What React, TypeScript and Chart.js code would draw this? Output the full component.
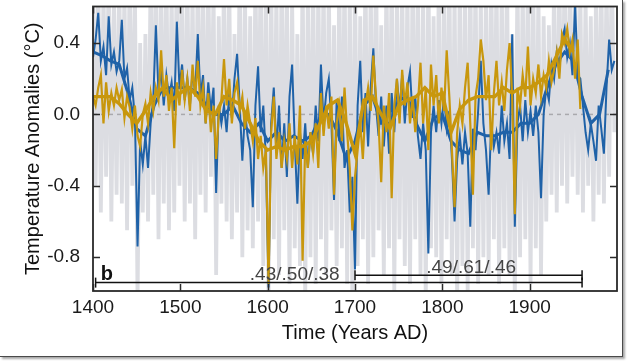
import React, { useEffect, useRef } from "react";
import { Chart, registerables } from "chart.js";

Chart.register(...registerables);

// ---------- data ----------
const START_YEAR = 1400;
const STEP = 3; // annual series sampled every 3 years
const SMOOTH_STEP = 10;

const xTickValues = [1400, 1500, 1600, 1700, 1800, 1900];
const yTickValues = [-0.8, -0.4, 0.0, 0.4];
const X_MIN = 1400;
const X_MAX = 2000;
const Y_MIN = -0.99;
const Y_MAX = 0.605;

// light gray: full-range (highly variable) reconstruction
const grayValues = [
  0.75, -0.4, 0.8, -0.55, 0.7, -0.35, 0.85, -0.6, 0.65, -0.45,
  0.8, -0.5, 0.72, -0.65, 0.85, -0.4, 0.7, -1.05, 0.4, -0.55,
  0.45, -0.6, 0.8, -0.45, 0.9, -0.7, 0.75, -0.5, 0.85, -0.65,
  0.7, -0.55, 0.9, -0.4, 0.75, -0.6, 0.8, -0.5, 0.7, -0.7,
  0.85, -0.45, 0.75, -0.55, 0.8, -0.35, 0.7, -0.9, 0.55, -0.5,
  0.8, -0.6, 0.75, -0.7, 0.45, -0.55, 0.85, -0.8, 0.7, -0.65,
  0.55, -0.75, 0.8, -0.6, 0.9, -0.85, 0.75, -1.05, 0.8, -0.7,
  0.7, -0.9, 0.85, -0.65, 0.75, -0.95, 0.65, -0.75, 0.45, -0.85,
  0.8, -1.05, 0.7, -0.8, 0.85, -0.95, 0.75, -0.7, 0.8, -0.9,
  0.75, -0.65, 0.5, -0.85, 0.8, -0.75, 0.85, -0.95, 0.7, -1.05,
  0.8, -0.85, 0.55, -0.7, 0.85, -0.95, 0.75, -0.8, 0.9, -0.65,
  0.5, -0.9, 0.8, -0.75, 0.85, -1.0, 0.7, -0.7, 0.8, -0.85,
  0.75, -0.95, 0.85, -0.7, 0.8, -0.9, 0.7, -1.05, 0.85, -0.75,
  0.55, -0.8, 0.8, -0.95, 0.75, -0.7, 0.85, -0.9, 0.7, -1.05,
  0.8, -0.85, 0.75, -1.0, 0.85, -0.75, 0.8, -0.95, 0.7, -0.8,
  0.75, -0.9, 0.85, -0.7, 0.8, -0.95, 0.75, -0.75, 0.85, -0.9,
  0.45, -1.05, 0.8, -0.8, 0.75, -0.7, 0.85, -0.95, 0.8, -0.75,
  0.7, -0.9, 0.55, -0.6, 0.5, -0.45, 0.75, -0.55, 0.8, -0.4,
  0.85, -0.5, 0.75, -0.35, 0.8, -0.45, 0.7, -0.55, 0.65, -0.4,
  0.55, -0.6, 0.7, -0.45, 0.8, -0.5, 0.75, -0.35, 0.85, -0.1,
];

// blue reconstruction, 1400-1997
const blueValues = [
  0.32, 0.42, 0.57, 0.3, 0.38, 0.22, 0.55, 0.28, 0.35, 0.24,
  0.3, 0.53, 0.2, 0.26, 0.08, 0.15, -0.02, -0.74, -0.15, -0.28,
  -0.12, -0.3, -0.05, 0.08, 0.5, 0.12, 0.25, 0.05, 0.22, 0.1,
  0.18, 0.02, 0.52, 0.15, 0.28, 0.08, 0.2, 0.05, 0.24, 0.12,
  0.45, 0.1, 0.22, -0.05, 0.18, 0.02, 0.15, -0.44, 0.05, -0.05,
  0.05, -0.1, 0.12, -0.02, 0.2, 0.34, 0.05, -0.26, 0.02, -0.12,
  -0.2, -0.52, 0.05, 0.27, -0.1, 0.05, -0.25, -0.97, -0.05, 0.15,
  -0.2, 0.05, -0.3, -0.05, -0.35, 0.1, 0.28, -0.15, -0.5, -0.1,
  -0.25, -0.05, -0.3, -0.1, -0.22, 0.05, -0.15, 0.28, -0.05, 0.12,
  0.2, -0.05, -0.48, 0.08, -0.15, 0.1, -0.3, -0.2, -0.55, -0.35,
  -0.87, 0.05, 0.3, -0.1, 0.12, -0.18, 0.15, 0.37, 0.05, -0.12,
  0.1, -0.18, 0.05, -0.22, 0.12, -0.1, 0.2, 0.02, 0.22, -0.05,
  0.15, 0.24, -0.02, 0.1, -0.12, -0.25, -0.05, -0.2, -0.78, -0.1,
  0.05, -0.1, 0.08, -0.05, 0.1, -0.08, 0.02, -0.25, -0.6, -0.25,
  -0.12, -0.28, -0.1, -0.22, -0.63, -0.08, -0.2, 0.02, 0.3, -0.05,
  -0.2, -0.45, -0.05, -0.18, -0.1, -0.22, 0.05, -0.15, -0.05, -0.25,
  0.45, -0.63, -0.05, 0.05, -0.15, 0.08, -0.1, 0.02, -0.12, 0.05,
  -0.1, -0.47, 0.0, 0.15, 0.08, 0.28, 0.2, 0.35, 0.25, 0.42,
  0.48, 0.32, 0.4, 0.22, 0.62, 0.22, 0.2, 0.05, -0.1, -0.2,
  -0.05, -0.15, -0.26, 0.05, -0.08, -0.22, 0.15, 0.42, 0.25, 0.3,
];

// gold reconstruction, 1400-1958
const goldValues = [
  0.1, 0.05, 0.15, 0.22, -0.05, 0.18, 0.02, 0.12, 0.05, 0.15,
  0.08, 0.14, -0.02, 0.1, 0.04, -0.08, 0.05, -0.12, -0.18, 0.0,
  0.06, -0.05, 0.12, 0.02, 0.15, 0.08, 0.36, 0.1, 0.22, 0.02,
  0.15, -0.19, 0.18, 0.05, 0.25, 0.08, 0.2, 0.02, 0.28, 0.1,
  0.3, 0.05, 0.15, -0.05, 0.12, -0.1, 0.05, -0.25, 0.0, 0.08,
  0.31, 0.05, 0.2, -0.05, 0.12, 0.18, 0.02, 0.1, -0.08, 0.05,
  -0.05, -0.15, -0.02, -0.25, -0.12, -0.3, -0.2, -0.95, -0.1, 0.1,
  -0.25, -0.1, -0.3, -0.15, -0.25, -0.05, -0.3, -0.12, -0.28, 0.05,
  -0.82, -0.15, -0.3, -0.1, -0.22, -0.05, -0.3, 0.12, -0.12, 0.05,
  -0.08, 0.1, -0.45, -0.05, 0.05, -0.15, 0.15, -0.1, -0.3, -0.65,
  -0.35, -0.2, -0.05, -0.25, 0.05, 0.15, 0.02, 0.33, 0.1, -0.05,
  -0.38, 0.05, -0.1, 0.12, -0.47, 0.05, 0.2, -0.05, 0.25, 0.05,
  0.18, -0.05, 0.1, -0.1, 0.05, 0.29, -0.05, 0.15, -0.2, 0.28,
  0.05, 0.22, -0.05, 0.15, 0.02, 0.36, 0.1, -0.2, -0.52, -0.1,
  0.05, -0.05, 0.15, 0.29, -0.05, -0.45, 0.1, 0.2, 0.42, 0.3,
  0.08, 0.22, -0.2, 0.12, 0.3, 0.05, 0.18, 0.02, 0.25, 0.4,
  0.1, -0.56, 0.15, 0.05, 0.22, 0.1, 0.38, 0.05, 0.2, 0.12,
  0.28, 0.1, 0.22, 0.15, 0.3, 0.18, 0.25, 0.35, 0.2, 0.45,
  0.4, 0.48, 0.35, 0.42, 0.2, 0.42, 0.03,
];

// decadal smooth curves
const blueSmooth = [
  0.35, 0.33, 0.3, 0.28, 0.12, -0.08, -0.12, 0.05, 0.15, 0.15,
  0.15, 0.15, 0.12, 0.05, 0.0, 0.0, 0.05, -0.05, -0.1, -0.05,
  -0.15, -0.1, -0.15, -0.12, -0.15, -0.12, -0.02, 0.0, -0.1, -0.25,
  -0.15, 0.05, 0.1, -0.05, -0.05, 0.08, 0.1, -0.05, -0.15, -0.02,
  0.0, -0.15, -0.2, -0.22, -0.1, -0.12, -0.12, -0.1, -0.1, -0.05,
  -0.05, 0.0, 0.15, 0.28, 0.35, 0.3, 0.1, -0.05, 0.0, 0.25,
];
const goldSmooth = [
  0.1, 0.1, 0.1, 0.06, 0.0, -0.05, 0.02, 0.1, 0.15, 0.08,
  0.12, 0.15, 0.1, 0.02, 0.0, 0.1, 0.08, 0.05, -0.05, -0.15,
  -0.2, -0.18, -0.2, -0.18, -0.18, -0.15, -0.05, 0.05, 0.08, -0.05,
  -0.22, 0.08, 0.1, 0.0, -0.08, 0.05, 0.08, 0.1, 0.15, 0.1,
  0.12, -0.1, 0.03, 0.08, 0.1, 0.1, 0.1, 0.15, 0.12, 0.15,
  0.15, 0.18, 0.22, 0.32, 0.42, 0.35,
];

// verification periods and scores
const periodStarts = [1403, 1700];
const periodEnds = [1960, 1960];
const periodLevels = [-0.943, -0.901];
const periodLabels = [".43/.50/.38", ".49/.61/.46"];
const periodLabelX = [1631, 1833];
const periodLabelY = [-0.926, -0.888];
const panelLetter = "b";
const panelLetterX = 1409;
const panelLetterY = -0.926;

const toPoints = (vals: number[], step: number) =>
  vals.map((v, i) => ({ x: START_YEAR + i * step, y: v }));

const FONT = "'Liberation Sans', Arial, Helvetica, sans-serif";

const framePlugin = {
  id: "framePlugin",
  afterDatasetsDraw(chart: any) {
    const { ctx, chartArea, scales } = chart;
    const xs = scales.x;
    const ys = scales.y;
    ctx.save();
    // annotations
    ctx.fillStyle = "#444";
    ctx.font = `19px ${FONT}`;
    ctx.textAlign = "center";
    ctx.textBaseline = "alphabetic";
    periodLabels.forEach((t, i) => {
      ctx.fillText(t, xs.getPixelForValue(periodLabelX[i]), ys.getPixelForValue(periodLabelY[i]));
    });
    ctx.fillStyle = "#111";
    ctx.font = `bold 20px ${FONT}`;
    ctx.textAlign = "left";
    ctx.fillText(panelLetter, xs.getPixelForValue(panelLetterX), ys.getPixelForValue(panelLetterY));
    // frame
    ctx.strokeStyle = "#2a2a2a";
    ctx.lineWidth = 1.8;
    ctx.strokeRect(chartArea.left, chartArea.top, chartArea.right - chartArea.left, chartArea.bottom - chartArea.top);
    // inward ticks
    const tl = 7;
    ctx.lineWidth = 1.5;
    ctx.beginPath();
    xTickValues.forEach((v) => {
      const px = Math.round(xs.getPixelForValue(v)) + 0.5;
      ctx.moveTo(px, chartArea.top);
      ctx.lineTo(px, chartArea.top + tl);
      ctx.moveTo(px, chartArea.bottom);
      ctx.lineTo(px, chartArea.bottom - tl);
    });
    yTickValues.forEach((v) => {
      const py = Math.round(ys.getPixelForValue(v)) + 0.5;
      ctx.moveTo(chartArea.left, py);
      ctx.lineTo(chartArea.left + tl, py);
      ctx.moveTo(chartArea.right, py);
      ctx.lineTo(chartArea.right - tl, py);
    });
    ctx.stroke();
    ctx.restore();
  },
};

export default function App() {
  const ref = useRef<HTMLCanvasElement | null>(null);

  useEffect(() => {
    if (!ref.current) return;
    const periodSets = periodStarts.map((s, i) => ({
      type: "line" as const,
      data: [
        { x: s, y: periodLevels[i] },
        { x: periodEnds[i], y: periodLevels[i] },
      ],
      borderColor: "#111",
      borderWidth: 1.5,
      pointStyle: "line" as const,
      rotation: 90,
      pointRadius: 5,
      pointBorderWidth: 1.5,
      pointBorderColor: "#111",
      order: 0,
      clip: false as any,
    }));
    const chart = new Chart(ref.current, {
      type: "line",
      data: {
        datasets: [
          {
            data: toPoints(grayValues, STEP),
            borderColor: "#dcdde2",
            borderWidth: 3.8,
            borderJoinStyle: "bevel",
            pointRadius: 0,
            order: 10,
          },
          {
            data: [
              { x: X_MIN, y: 0 },
              { x: X_MAX, y: 0 },
            ],
            borderColor: "#a9a9ad",
            borderWidth: 1.5,
            borderDash: [4, 4],
            pointRadius: 0,
            order: 9,
          },
          {
            data: toPoints(blueValues, STEP),
            borderColor: "#1f62a8",
            borderWidth: 2,
            pointRadius: 0,
            order: 8,
          },
          {
            data: toPoints(blueSmooth, SMOOTH_STEP),
            borderColor: "#1f62a8",
            borderWidth: 3,
            pointRadius: 0,
            order: 7,
          },
          {
            data: toPoints(goldValues, STEP),
            borderColor: "#c8970d",
            borderWidth: 2.2,
            pointRadius: 0,
            order: 6,
          },
          {
            data: toPoints(goldSmooth, SMOOTH_STEP),
            borderColor: "#c8970d",
            borderWidth: 3.4,
            pointRadius: 0,
            order: 5,
          },
          ...periodSets,
        ] as any,
      },
      options: {
        responsive: false,
        animation: false,
        events: [],
        layout: { padding: { top: 3, right: 11, left: 0, bottom: 0 } },
        plugins: { legend: { display: false }, tooltip: { enabled: false } },
        elements: { line: { tension: 0 } },
        scales: {
          x: {
            type: "linear",
            min: X_MIN,
            max: X_MAX,
            grid: { display: false, drawTicks: false },
            border: { display: false },
            afterBuildTicks: (s: any) => {
              s.ticks = xTickValues.map((v) => ({ value: v }));
            },
            afterFit: (s: any) => {
              s.height = 71;
              s.paddingLeft = 0;
              s.paddingRight = 0;
            },
            ticks: {
              padding: 5,
              maxRotation: 0,
              autoSkip: false,
              color: "#1a1a1a",
              font: { family: FONT, size: 19 },
              callback: (v: any) => String(v),
            },
            title: {
              display: true,
              text: "Time (Years AD)",
              color: "#111",
              font: { family: FONT, size: 20 },
              padding: { top: 0, bottom: 17 },
            },
          },
          y: {
            type: "linear",
            min: Y_MIN,
            max: Y_MAX,
            grid: { display: false, drawTicks: false },
            border: { display: false },
            afterBuildTicks: (s: any) => {
              s.ticks = yTickValues.map((v) => ({ value: v }));
            },
            afterFit: (s: any) => {
              s.width = 93;
              s.paddingTop = 0;
              s.paddingBottom = 0;
            },
            ticks: {
              padding: 13,
              color: "#1a1a1a",
              font: { family: FONT, size: 19 },
              callback: (v: any) => Number(v).toFixed(1),
            },
            title: {
              display: true,
              text: "Temperature Anomalies (°C)",
              color: "#111",
              font: { family: FONT, size: 20 },
              padding: { top: 21, bottom: 0 },
            },
          },
        },
      },
      plugins: [framePlugin],
    });
    return () => chart.destroy();
  }, []);

  return (
    <div style={{ position: "fixed", left: 0, top: 0, width: 628, height: 362, background: "#fff" }}>
      <div
        style={{
          position: "absolute",
          left: 0,
          top: 0,
          width: 622,
          height: 356,
          borderRight: "1px solid #4a4a4a",
          borderBottom: "1px solid #4a4a4a",
          boxShadow: "2px 2px 2px rgba(0,0,0,0.35)",
        }}
      />
      <canvas ref={ref} width={628} height={362} style={{ position: "absolute", left: 0, top: 0 }} />
    </div>
  );
}
